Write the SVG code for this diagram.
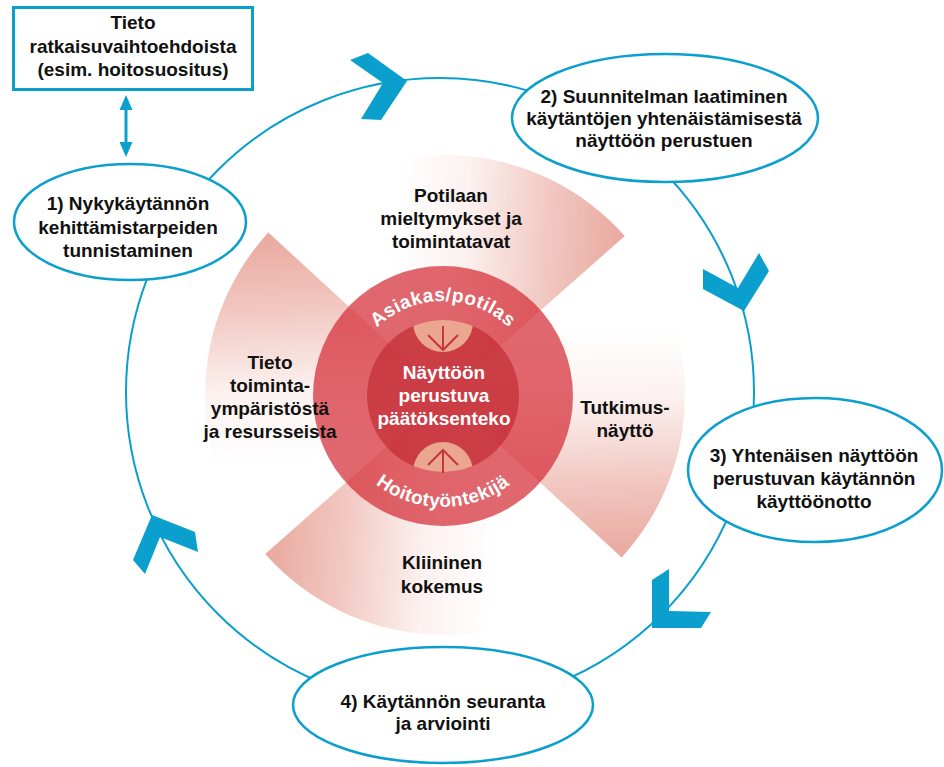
<svg xmlns="http://www.w3.org/2000/svg" width="944" height="767" viewBox="0 0 944 767">
<style>
text{font-family:"Liberation Sans",Arial,sans-serif;font-weight:bold;font-size:19px;text-anchor:middle;fill:#111}
.w{fill:#fff}
.node{fill:#fff;stroke:#0a9fcd;stroke-width:2.5}
.box{fill:#fff;stroke:#0a9fcd;stroke-width:3}
.chev{fill:#0a9fcd}
.line{fill:none;stroke:#0a9fcd;stroke-width:2}
.arc{font-size:19px;letter-spacing:0.5px;fill:#fff}
.ar{fill:none;stroke:#c7363c;stroke-width:2}
</style>
<defs>
<linearGradient id="wg" gradientUnits="userSpaceOnUse" x1="0" y1="-60" x2="0" y2="175">
<stop offset="0" stop-color="#e9a69b" stop-opacity="0"/>
<stop offset="0.3" stop-color="#e9a69b" stop-opacity="0.15"/>
<stop offset="0.65" stop-color="#e9a69b" stop-opacity="0.62"/>
<stop offset="1" stop-color="#e9a69b" stop-opacity="1"/>
</linearGradient>
<path id="wedge" d="M0,0 L169.7,169.7 A240,240 0 0 0 169.7,-169.7 Z" fill="url(#wg)"/>
<clipPath id="inner"><circle cx="443" cy="396" r="76"/></clipPath>
<path id="tp" d="M348,396 A95,95 0 0 1 538,396"/>
<path id="bp" d="M332,396 A111,111 0 0 0 554,396"/>
</defs>

<g id="connectors">
<circle class="line" cx="440" cy="392" r="314"/>
<polygon class="chev" points="350,60 368,53 407,81 381,120 361,119 383,83"/>
<polygon class="chev" points="703,269 738,288 759,253 769,271 744,311 703,289"/>
<polygon class="chev" points="652,580 669,569 669,611 711,612 701,628 652,628"/>
<polygon class="chev" points="152,515 195,532 198,552 160,537 145,574 133,560"/>
<line x1="126" y1="106" x2="126" y2="146" stroke="#0a9fcd" stroke-width="3"/>
<polygon class="chev" points="126,95 132.5,110 119.5,110"/>
<polygon class="chev" points="126,157 132.5,142 119.5,142"/>
</g>

<g id="center">
<use href="#wedge" transform="translate(445,395) rotate(-2.4)"/>
<use href="#wedge" transform="translate(445,395) rotate(-86.5)"/>
<use href="#wedge" transform="translate(445,395) rotate(-182.4)"/>
<use href="#wedge" transform="translate(445,395) rotate(93.5)"/>
<circle cx="443" cy="396" r="130" fill="#d42d36" fill-opacity="0.72"/>
<circle cx="443" cy="396" r="76" fill="#b81520" fill-opacity="0.5"/>
<g clip-path="url(#inner)">
<circle cx="443" cy="322" r="30" fill="#eba690"/>
<circle cx="443" cy="472" r="30" fill="#eba690"/>
</g>
<path class="ar" d="M443,326 V350 M428,335 L443,350 L458,335"/>
<path class="ar" d="M443,473 V450 M428,465 L443,450 L458,465"/>
<text class="arc"><textPath href="#tp" startOffset="50%">Asiakas/potilas</textPath></text>
<text class="arc"><textPath href="#bp" startOffset="50%">Hoitotyöntekijä</textPath></text>
<text class="w" x="444" y="379">Näyttöön</text>
<text class="w" x="444" y="402">perustuva</text>
<text class="w" x="444" y="425">päätöksenteko</text>
</g>

<g id="label-potilaan">
<text x="451" y="202">Potilaan</text>
<text x="451" y="225">mieltymykset ja</text>
<text x="451" y="248">toimintatavat</text>
</g>
<g id="label-tieto">
<text x="270" y="369">Tieto</text>
<text x="270" y="392">toiminta-</text>
<text x="270" y="415">ympäristöstä</text>
<text x="270" y="438">ja resursseista</text>
</g>
<g id="label-tutkimus">
<text x="625" y="414">Tutkimus-</text>
<text x="625" y="437">näyttö</text>
</g>
<g id="label-kliininen">
<text x="442" y="569">Kliininen</text>
<text x="442" y="593">kokemus</text>
</g>

<g id="box-tieto">
<rect class="box" x="13.5" y="7.5" width="239" height="82"/>
<text x="133" y="29">Tieto</text>
<text x="133" y="53">ratkaisuvaihtoehdoista</text>
<text x="133" y="76">(esim. hoitosuositus)</text>
</g>

<g id="node1">
<ellipse class="node" cx="130" cy="222" rx="116" ry="58"/>
<text x="128" y="210">1) Nykykäytännön</text>
<text x="128" y="234">kehittämistarpeiden</text>
<text x="128" y="257">tunnistaminen</text>
</g>

<g id="node2">
<ellipse class="node" cx="665" cy="118" rx="153" ry="64"/>
<text x="664" y="103">2) Suunnitelman laatiminen</text>
<text x="664" y="125">käytäntöjen yhtenäistämisestä</text>
<text x="664" y="147">näyttöön perustuen</text>
</g>

<g id="node3">
<ellipse class="node" cx="815" cy="470" rx="127" ry="72"/>
<text x="814" y="462">3) Yhtenäisen näyttöön</text>
<text x="814" y="485">perustuvan käytännön</text>
<text x="814" y="508">käyttöönotto</text>
</g>

<g id="node4">
<ellipse class="node" cx="443" cy="705" rx="150" ry="58"/>
<text x="443" y="708">4) Käytännön seuranta</text>
<text x="443" y="730">ja arviointi</text>
</g>
</svg>
